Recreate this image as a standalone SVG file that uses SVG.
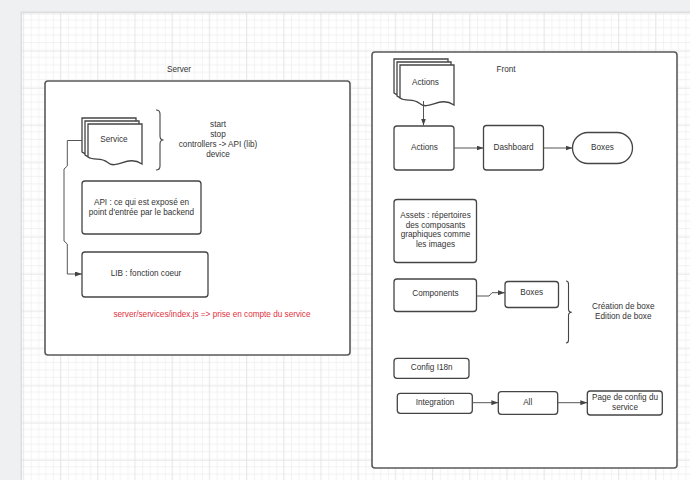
<svg xmlns="http://www.w3.org/2000/svg" width="690" height="480" viewBox="0 0 690 480">
  <defs>
    <pattern id="minor" x="22.8" y="13.6" width="7.44" height="7.44" patternUnits="userSpaceOnUse">
      <path d="M0,0 H7.44 M0,0 V7.44" stroke="#ededed" stroke-width="1.2" fill="none"/>
    </pattern>
    <pattern id="major" x="22.8" y="13.6" width="37.2" height="37.2" patternUnits="userSpaceOnUse">
      <rect width="37.2" height="37.2" fill="url(#minor)"/>
      <path d="M0,0 H37.2 M0,0 V37.2" stroke="#dedede" stroke-width="1.2" fill="none"/>
    </pattern>
    <marker id="arr" markerWidth="7" markerHeight="5" refX="7" refY="2.5" orient="auto" markerUnits="userSpaceOnUse">
      <path d="M0,0 L7,2.5 L0,5 z" fill="#444"/>
    </marker>
    <style>
      .box{fill:#fff;stroke:#444;stroke-width:1.3}
      .frame{fill:#fff;stroke:#5a5a5a;stroke-width:1.6}
      .t{font-family:"Liberation Sans",Arial,sans-serif;font-size:8.2px;fill:#333;text-anchor:middle;dominant-baseline:central}
      .red{fill:#e0303c}
      .conn{fill:none;stroke:#555;stroke-width:1}
      .brace{fill:none;stroke:#444;stroke-width:1.1}
    </style>
  </defs>

  <!-- page background and canvas -->
  <rect width="690" height="480" fill="#eff0f2"/>
  <rect x="20.5" y="11.5" width="680" height="480" fill="#dcdde0"/>
  <rect x="22" y="13" width="680" height="480" fill="#fff"/>
  <rect x="22" y="13" width="680" height="480" fill="url(#major)"/>

  <!-- Server container -->
  <g id="server">
    <rect class="frame" x="45" y="81" width="305" height="274" rx="3"/>
    <text class="t" x="179" y="69">Server</text>
  </g>

  <!-- Front container -->
  <g id="front">
    <rect class="frame" x="372" y="52" width="305" height="416" rx="3"/>
    <text class="t" x="506" y="69">Front</text>
  </g>

  <!-- Service (multi-document) -->
  <g id="service">
    <path class="box" d="M82,118 H136 V158 C121,151 111,166 102,157 C96,153 88,157 82,152 Z"/>
    <path class="box" d="M85,121 H139 V161 C124,154 114,169 105,160 C99,156 91,160 85,155 Z"/>
    <path class="box" d="M88,124 H142 V164 C127,154 117,171 107,162 C101,157 94,161 88,157 Z"/>
    <text class="t" x="114" y="139">Service</text>
  </g>

  <g id="service-brace">
    <path class="brace" d="M156,110 Q160,110 160,114 V136 Q160,140 163.5,140 Q160,140 160,144 V166 Q160,170 156,170"/>
    <text class="t" x="218" y="124">start</text>
    <text class="t" x="218" y="134">stop</text>
    <text class="t" x="218" y="144">controllers -&gt; API (lib)</text>
    <text class="t" x="218" y="154">device</text>
  </g>

  <g id="api">
    <rect class="box" x="82" y="181" width="119" height="53" rx="3"/>
    <text class="t" x="141.5" y="202.3">API : ce qui est exposé en</text>
    <text class="t" x="141.5" y="212.3">point d'entrée par le backend</text>
  </g>

  <g id="lib">
    <rect class="box" x="82" y="252" width="126" height="45" rx="3"/>
    <text class="t" x="146" y="273.5">LIB : fonction coeur</text>
  </g>

  <g id="note">
    <text class="t red" x="212" y="314.3">server/services/index.js =&gt; prise en compte du service</text>
  </g>

  <!-- Front nodes -->
  <g id="actions-doc">
    <path class="box" d="M394,59 H448 V99 C433,92 423,107 414,98 C408,94 400,98 394,93 Z"/>
    <path class="box" d="M397,62 H451 V102 C436,95 426,110 417,101 C411,97 403,101 397,96 Z"/>
    <path class="box" d="M400,65 H454 V105 C439,95 429,112 419,103 C413,98 406,102 400,98 Z"/>
    <text class="t" x="425.5" y="82">Actions</text>
  </g>

  <g id="actions">
    <rect class="box" x="394" y="126" width="60" height="44" rx="3"/>
    <text class="t" x="424.5" y="147">Actions</text>
  </g>

  <g id="dashboard">
    <rect class="box" x="483.5" y="125.5" width="60" height="44.5" rx="3"/>
    <text class="t" x="513.5" y="147">Dashboard</text>
  </g>

  <g id="boxes-main">
    <rect class="box" x="572.5" y="132.5" width="60" height="31" rx="15.5"/>
    <text class="t" x="602.5" y="147">Boxes</text>
  </g>

  <g id="assets">
    <rect class="box" x="394" y="199.5" width="82.5" height="63" rx="3"/>
    <text class="t" x="435.5" y="215.3">Assets : répertoires</text>
    <text class="t" x="435.5" y="225.1">des composants</text>
    <text class="t" x="435.5" y="234.9">graphiques comme</text>
    <text class="t" x="435.5" y="244.7">les images</text>
  </g>

  <g id="components">
    <rect class="box" x="394" y="279" width="82.5" height="32.5" rx="3"/>
    <text class="t" x="435.5" y="293.3">Components</text>
  </g>

  <g id="boxes-small">
    <rect class="box" x="505" y="281.5" width="53.5" height="26" rx="3"/>
    <text class="t" x="531.7" y="292">Boxes</text>
  </g>

  <g id="boxes-brace">
    <path class="brace" d="M566,281 Q568.5,281 568.5,284 V309 Q568.5,312.3 571.8,312.3 Q568.5,312.3 568.5,315.5 V340 Q568.5,343 566,343"/>
    <text class="t" x="623.3" y="306.7">Création de boxe</text>
    <text class="t" x="623.3" y="316.7">Edition de boxe</text>
  </g>

  <g id="config">
    <rect class="box" x="394" y="358.3" width="75" height="20" rx="3"/>
    <text class="t" x="431.7" y="367.7">Config I18n</text>
  </g>

  <g id="integration">
    <rect class="box" x="397.3" y="393.3" width="75" height="20" rx="3"/>
    <text class="t" x="435" y="402.7">Integration</text>
  </g>

  <g id="all">
    <rect class="box" x="498.3" y="391.7" width="59.4" height="22.6" rx="3"/>
    <text class="t" x="527.7" y="402.7">All</text>
  </g>

  <g id="page-config">
    <rect class="box" x="587.3" y="391" width="75" height="24" rx="3"/>
    <text class="t" x="625" y="397.3">Page de config du</text>
    <text class="t" x="625" y="407.3">service</text>
  </g>

  <!-- connectors -->
  <g id="connectors">
    <path class="conn" d="M82,140.5 H67.3 V166 L64,169 V241 L67.3,244 V274 H82" marker-end="url(#arr)"/>
    <path class="conn" d="M423.5,101 V125.5" marker-end="url(#arr)"/>
    <path class="conn" d="M454,148 H483.5" marker-end="url(#arr)"/>
    <path class="conn" d="M543.5,148 H572.5" marker-end="url(#arr)"/>
    <path class="conn" d="M476.5,296 H489 L492,292.7 H505" marker-end="url(#arr)"/>
    <path class="conn" d="M472.3,402.7 H498.3" marker-end="url(#arr)"/>
    <path class="conn" d="M557.7,402.7 H587.3" marker-end="url(#arr)"/>
  </g>
</svg>
